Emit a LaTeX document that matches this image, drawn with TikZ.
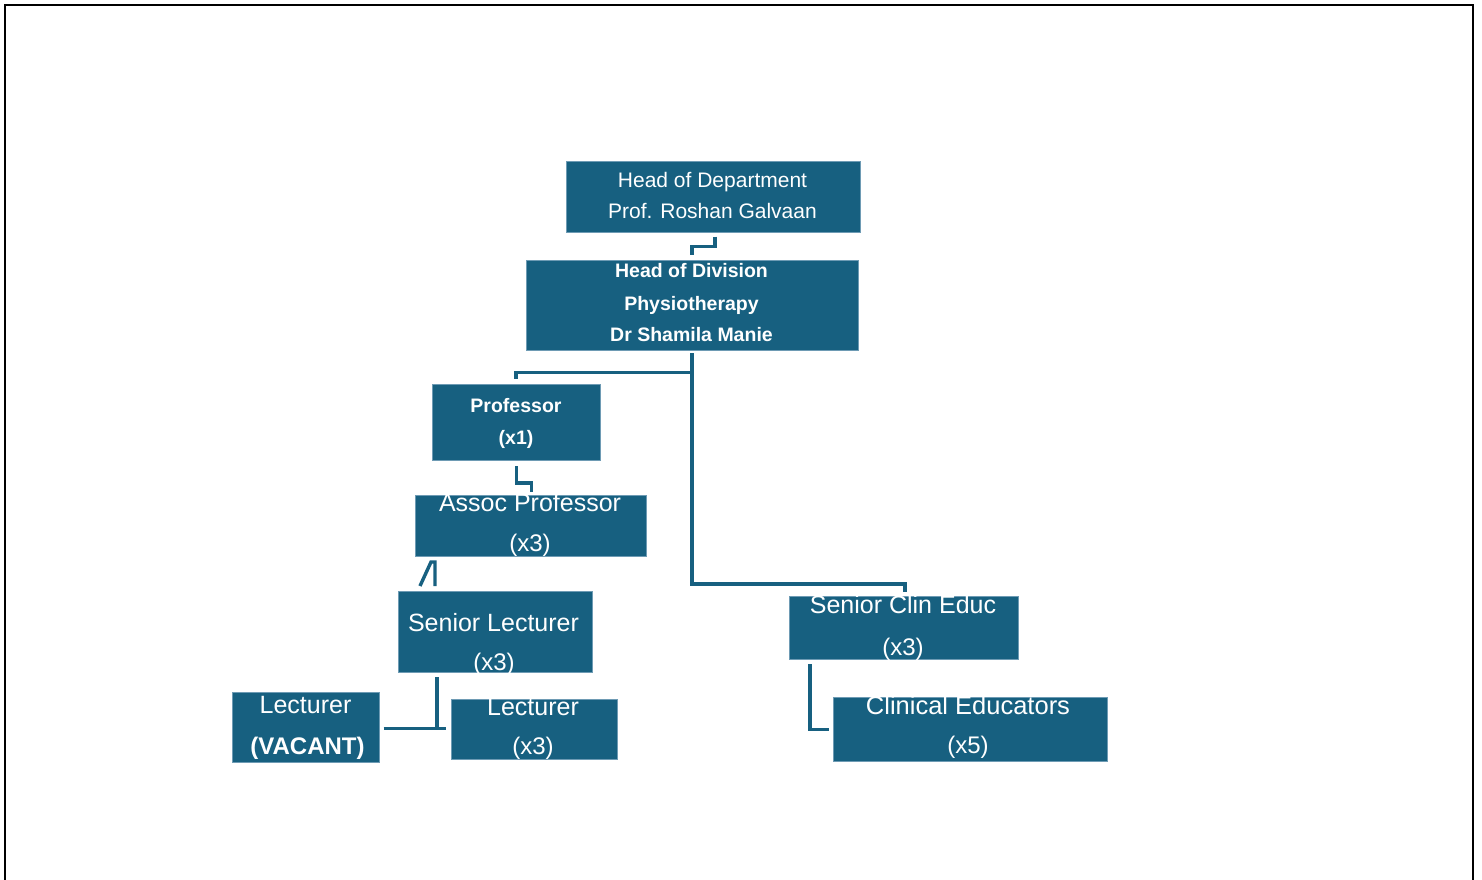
\documentclass[tikz,border=0pt]{standalone}
\usepackage{fontspec}
\setmainfont{Liberation Sans}
\usetikzlibrary{calc}
\definecolor{boxblue}{RGB}{23,96,128}
\definecolor{boxedge}{RGB}{110,155,180}
\begin{document}
\begin{tikzpicture}[x=1pt,y=-1pt,
  box/.style={fill=boxblue,draw=boxedge,line width=0.6pt,inner sep=0pt,outer sep=0pt,anchor=north west},
  txt/.style={text=white,inner sep=0pt,anchor=base},
  conn/.style={draw=boxblue,line width=3.4pt},
  frame/.style={draw=black,line width=2.4pt}]
\useasboundingbox (0,0) rectangle (1482,879);
\draw[frame] (5,890) -- (5,5) -- (1473,5) -- (1473,890);

% boxes
\node[box,minimum width=294pt,minimum height=71pt] (hod) at (566,161) {};
\node[box,minimum width=332pt,minimum height=90pt] (hodiv) at (526,260) {};
\node[box,minimum width=168pt,minimum height=76pt] (prof) at (432,384) {};
\node[box,minimum width=231pt,minimum height=61pt] (assoc) at (415,495.5) {};
\node[box,minimum width=194pt,minimum height=81pt] (sl) at (398,591) {};
\node[box,minimum width=147pt,minimum height=70pt] (lecv) at (232.5,692.5) {};
\node[box,minimum width=166pt,minimum height=60pt] (lec3) at (451,699.5) {};
\node[box,minimum width=229pt,minimum height=63pt] (sce) at (789,596) {};
\node[box,minimum width=274pt,minimum height=64pt] (ce) at (833,697.5) {};

% texts
\node[txt,font=\fontsize{21}{24}\selectfont] (hodA) at (712.5,187.5) {Head of Department};
\node[txt,font=\fontsize{21}{24}\selectfont] (hodB) at (712.5,218) {Prof. Roshan Galvaan};
\node[txt,font=\fontsize{19.5}{23}\selectfont\bfseries] (hodivA) at (691.5,277.3) {Head of Division};
\node[txt,font=\fontsize{19.5}{23}\selectfont\bfseries] (hodivB) at (691.5,310) {Physiotherapy};
\node[txt,font=\fontsize{19.5}{23}\selectfont\bfseries] (hodivC) at (691.5,341.7) {Dr Shamila Manie};
\node[txt,font=\fontsize{19.5}{23}\selectfont\bfseries] (profA) at (516,412.3) {Professor};
\node[txt,font=\fontsize{19.5}{23}\selectfont\bfseries] (profB) at (516,444) {(x1)};
\node[txt,font=\fontsize{25}{28}\selectfont] (assocA) at (530,511.7) {Assoc Professor};
\node[txt,font=\fontsize{24}{28}\selectfont] (assocB) at (530,551.7) {(x3)};
\node[txt,font=\fontsize{25}{28}\selectfont] (slA) at (493.5,631.7) {Senior Lecturer};
\node[txt,font=\fontsize{24}{28}\selectfont] (slB) at (494,670) {(x3)};
\node[txt,font=\fontsize{25}{28}\selectfont] (lecvA) at (305.5,713.3) {Lecturer};
\node[txt,font=\fontsize{24}{28}\selectfont\bfseries] (lecvB) at (307.5,754) {(VACANT)};
\node[txt,font=\fontsize{25}{28}\selectfont] (lec3A) at (533,715) {Lecturer};
\node[txt,font=\fontsize{24}{28}\selectfont] (lec3B) at (533,754) {(x3)};
\node[txt,font=\fontsize{25}{28}\selectfont] (sceA) at (903,613.3) {Senior Clin Educ};
\node[txt,font=\fontsize{24}{28}\selectfont] (sceB) at (903,655) {(x3)};
\node[txt,font=\fontsize{25.5}{28}\selectfont] (ceA) at (968,714.3) {Clinical Educators};
\node[txt,font=\fontsize{24}{28}\selectfont] (ceB) at (968,753) {(x5)};

% connectors
\draw[conn] ([shift={(2,4.5)}]hod.south) -- ++(0,10) -| ([shift={(0,-5.5)}]hodiv.north);
\draw[conn] ([shift={(0,3)}]hodiv.south) -- ++(0,19.5) coordinate (j1) -| ([shift={(0,-5)}]prof.north);
\draw[conn] (j1) |- ([shift={(1.5,-12)}]sce.north) -- ([shift={(1.5,-4)}]sce.north);
\draw[conn] ([shift={(0.5,6)}]prof.south) -- ++(0,17) -| ([shift={(1,-3.5)}]assoc.north);
\draw[conn,line join=miter] ([shift={(22,-5)}]sl.north west) -- ([shift={(33,-29)}]sl.north west) -- ([shift={(37,-29)}]sl.north west) -- ([shift={(37,-5)}]sl.north west);
\draw[conn] ([shift={(39,5)}]sl.south west) -- ([shift={(39,58)}]sl.south west);
\draw[conn] ([shift={(4,1)}]lecv.east) -- ([shift={(-5,1)}]lec3.west |- lecv.east);
\draw[conn] ([shift={(21,5)}]sce.south west) |- ([xshift=-4.5]ce.west);
\end{tikzpicture}
\end{document}
